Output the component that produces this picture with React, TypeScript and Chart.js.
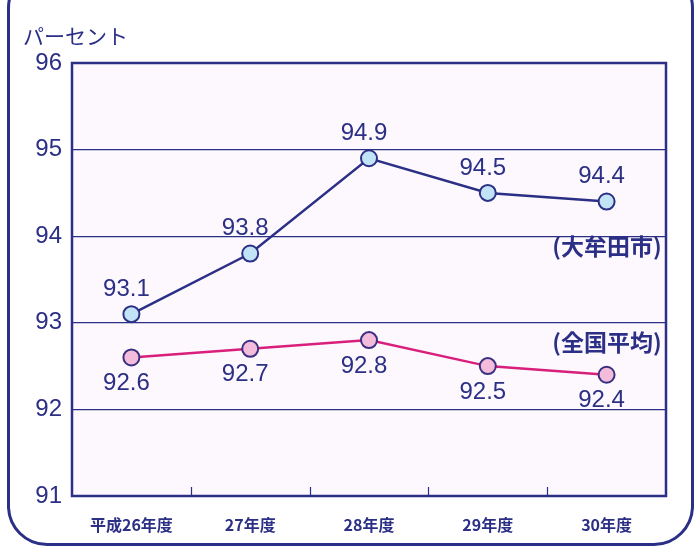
import React, { useEffect, useRef } from "react";
import { Chart, registerables } from "chart.js";

Chart.register(...registerables);

const categories = ["平成26年度", "27年度", "28年度", "29年度", "30年度"];
const omutaValues = [93.1, 93.8, 94.9, 94.5, 94.4];
const nationalValues = [92.6, 92.7, 92.8, 92.5, 92.4];
const seriesNames = ["(大牟田市)", "(全国平均)"];
const yUnit = "パーセント";
const yMin = 91;
const yMax = 96;

const NAVY = "#2b2f85";
const PINK = "#d81f7c";
const FONT = '"Liberation Sans", Arial, "Noto Sans CJK JP", sans-serif';
const JFONT = '"Noto Sans CJK JP", "Liberation Sans", sans-serif';

const decorPlugin = {
  id: "decor",
  beforeDraw(chart: any) {
    const { ctx, chartArea } = chart;
    const { left, right, top, bottom } = chartArea;
    ctx.save();
    ctx.fillStyle = "#fdf8fd";
    ctx.fillRect(left, top, right - left, bottom - top);
    ctx.restore();
  },
  afterDraw(chart: any) {
    const { ctx, chartArea, scales } = chart;
    const { left, right, top, bottom } = chartArea;
    const x = scales.x;
    ctx.save();
    // frame
    ctx.strokeStyle = NAVY;
    ctx.lineWidth = 2.5;
    ctx.strokeRect(left, top, right - left, bottom - top);
    // inner tick marks between categories
    ctx.lineWidth = 1.2;
    const half = (x.getPixelForValue(1) - x.getPixelForValue(0)) / 2;
    for (let i = 0; i < categories.length - 1; i++) {
      const px = Math.round(x.getPixelForValue(i) + half) + 0.5;
      ctx.beginPath();
      ctx.moveTo(px, bottom);
      ctx.lineTo(px, bottom - 9);
      ctx.stroke();
    }
    // unit label
    ctx.fillStyle = NAVY;
    ctx.font = `21px ${JFONT}`;
    ctx.textAlign = "left";
    ctx.textBaseline = "middle";
    ctx.fillText(yUnit, 23, 36);
    // data labels
    ctx.font = `24px ${FONT}`;
    ctx.textAlign = "center";
    chart.data.datasets.forEach((ds: any, di: number) => {
      const meta = chart.getDatasetMeta(di);
      meta.data.forEach((pt: any, i: number) => {
        const v = ds.data[i];
        const off = di === 0 ? -25 : 26;
        ctx.fillText(v.toFixed(1), pt.x - 5, pt.y + off);
      });
    });
    // series names
    ctx.font = `bold 23px ${JFONT}`;
    ctx.textAlign = "center";
    const y = scales.y;
    ctx.fillText(seriesNames[0], 607, y.getPixelForValue(93.88));
    ctx.fillText(seriesNames[1], 607, y.getPixelForValue(92.77));
    ctx.restore();
  },
};

export default function App() {
  const ref = useRef<HTMLCanvasElement>(null);
  useEffect(() => {
    if (!ref.current) return;
    const chart = new Chart(ref.current, {
      type: "line",
      data: {
        labels: categories,
        datasets: [
          {
            label: seriesNames[0],
            data: omutaValues,
            borderColor: NAVY,
            borderWidth: 2.5,
            pointRadius: 8,
            pointBorderWidth: 2,
            pointBackgroundColor: "#c2e3f6",
            pointBorderColor: NAVY,
          },
          {
            label: seriesNames[1],
            data: nationalValues,
            borderColor: PINK,
            borderWidth: 2.5,
            pointRadius: 8,
            pointBorderWidth: 2,
            pointBackgroundColor: "#f3bcda",
            pointBorderColor: "#3a2f80",
          },
        ],
      },
      options: {
        animation: false,
        responsive: false,
        layout: { padding: { left: 0, right: 30, top: 63, bottom: 0 } },
        plugins: { legend: { display: false }, tooltip: { enabled: false } },
        scales: {
          x: {
            offset: true,
            grid: { display: false },
            border: { display: false },
            ticks: {
              color: NAVY,
              font: { family: JFONT, size: 16, weight: "bold" },
              padding: 11,
              maxRotation: 0,
            },
            afterFit: (s: any) => {
              s.height = 51;
            },
          },
          y: {
            min: yMin,
            max: yMax,
            grid: { color: NAVY, lineWidth: 1.3, drawTicks: false },
            border: { display: false },
            ticks: {
              stepSize: 1,
              color: NAVY,
              font: { family: FONT, size: 24 },
              padding: 10,
            },
            afterFit: (s: any) => {
              s.width = 72;
            },
          },
        },
      },
      plugins: [decorPlugin],
    });
    return () => chart.destroy();
  }, []);
  return (
    <div>
      <div
        style={{
          position: "fixed",
          left: 7,
          top: -32,
          width: 687,
          height: 578,
          boxSizing: "border-box",
          border: `3px solid ${NAVY}`,
          borderRadius: 40,
        }}
      />
      <canvas
        ref={ref}
        width={696}
        height={547}
        style={{ position: "fixed", left: 0, top: 0, width: 696, height: 547 }}
      />
    </div>
  );
}
